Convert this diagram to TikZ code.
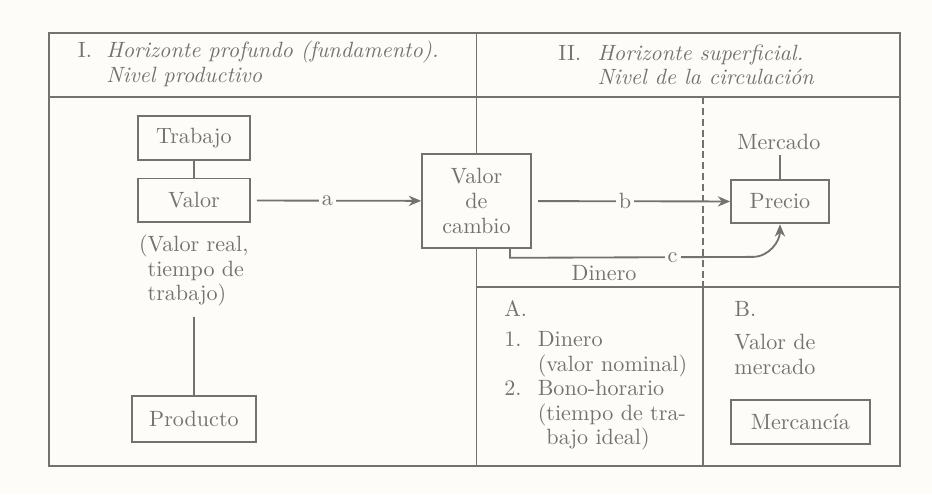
\documentclass[tikz,border=0pt]{standalone}
\usepackage{fontspec}
\usepackage{tikz}
\usetikzlibrary{positioning, arrows.meta}
\definecolor{tinta}{RGB}{118,113,113}
\definecolor{fondo}{RGB}{253,252,248}
\tikzset{
    caja/.style={draw=tinta, line width=0.9pt, text=tinta, minimum height=0.75cm, inner sep=2pt},
    linea/.style={draw=tinta, line width=0.9pt},
    flecha/.style={linea, -{Stealth[length=6pt, width=5pt]}},
    etiqueta/.style={fill=fondo, text=tinta, inner sep=1.5pt},
    texto/.style={text=tinta, align=left, inner sep=0pt}
}

\begin{document}
\begin{tikzpicture}[font=\fontsize{10.8}{12}\selectfont]
            \fill[fondo] (0,0) rectangle (16,-8.481);

            %Frame
            \coordinate (divarriba) at (8.18,-0.567);
            \coordinate (divabajo) at (8.18,-8.0);
            \draw[linea] (0.841,-0.567) rectangle (15.45,-8.0);
            \draw[linea] (0.841,-1.665) -- (15.45,-1.665);
            \draw[linea] (8.18,-4.927) -- (15.45,-4.927);
            \draw[linea, dash pattern=on 3.5pt off 1.8pt] (12.068,-1.665) -- (12.068,-4.927);
            \draw[linea] (12.068,-4.927) -- (12.068,-8.0);

            %Headers
            \node[texto, anchor=west] at (1.33,-1.116) (horizI) {\begin{tabular}{@{}l@{\hspace{7pt}}l@{}}
                I. & \textit{Horizonte profundo (fundamento).}\\
                   & \textit{Nivel productivo}\end{tabular}};
            \node[texto, anchor=west] at (9.58,-1.16) (horizII) {\begin{tabular}{@{}l@{\hspace{8pt}}l@{}}
                II. & \textit{Horizonte superficial.}\\
                    & \textit{Nivel de la circulación}\end{tabular}};

            %Nodes
            \node[caja, minimum width=1.92cm] at (3.33,-2.37) (trabajo) {Trabajo};
            \node[caja, minimum width=1.92cm] at (3.33,-3.44) (valor) {Valor};
            \node[texto, anchor=west] at (2.38,-4.65) (valorreal) {(Valor real,\\\phantom{(}tiempo de\\\phantom{(}trabajo)};
            \node[caja, minimum width=2.13cm, minimum height=0.79cm] at (3.33,-7.19) (producto) {Producto};
            \node[caja, minimum width=1.87cm, minimum height=1.61cm, align=center] at (8.18,-3.45) (vcambio) {Valor\\de\\cambio};
            \node[caja, minimum width=1.68cm] at (13.39,-3.46) (precio) {Precio};
            \node[texto, inner sep=2.5pt] at (13.37,-2.44) (mercado) {Mercado};
            \node[texto] at (10.37,-4.69) (dinero) {Dinero};
            \coordinate (codo) at (12.92,-4.41);

            \node[texto, anchor=west] at (8.65,-5.30) (A) {A.};
            \node[texto, anchor=west] at (8.65,-6.71) (listaA) {\begin{tabular}{@{}l@{\hspace{8pt}}l@{}}
                1. & Dinero\\
                   & (valor nominal)\\
                2. & Bono-horario\\
                   & (tiempo de tra-\\
                   & \phantom{(}bajo ideal)\end{tabular}};
            \node[texto, anchor=west] at (12.60,-5.30) (B) {B.};
            \node[texto, anchor=west] at (12.60,-6.086) (valormercado) {Valor de\\mercado};
            \node[caja, minimum width=2.39cm] at (13.74,-7.24) (mercancia) {Mercancía};

            %Lines
            \draw[linea] (divarriba) -- (vcambio.north);
            \draw[linea] (vcambio.south) -- (divabajo);
            \draw[linea] (trabajo) -- (valor);
            \draw[linea] ([yshift=-5pt]producto.north |- valorreal.south) -- (producto.north);
            \draw[linea] (mercado.south -| precio.north) -- (precio.north);
            \draw[flecha, shorten <=3pt] (valor) -- node[etiqueta, pos=0.45] {a} (vcambio);
            \draw[flecha, shorten <=3pt] (vcambio) -- node[etiqueta, pos=0.47] {b} (precio);
            \draw[flecha] ([xshift=0.575cm]vcambio.south) -- ++(0,-0.155) -- node[etiqueta, pos=0.67] {c} (codo)
                to[out=0, in=-90] (precio.south);
        \end{tikzpicture}
\end{document}
